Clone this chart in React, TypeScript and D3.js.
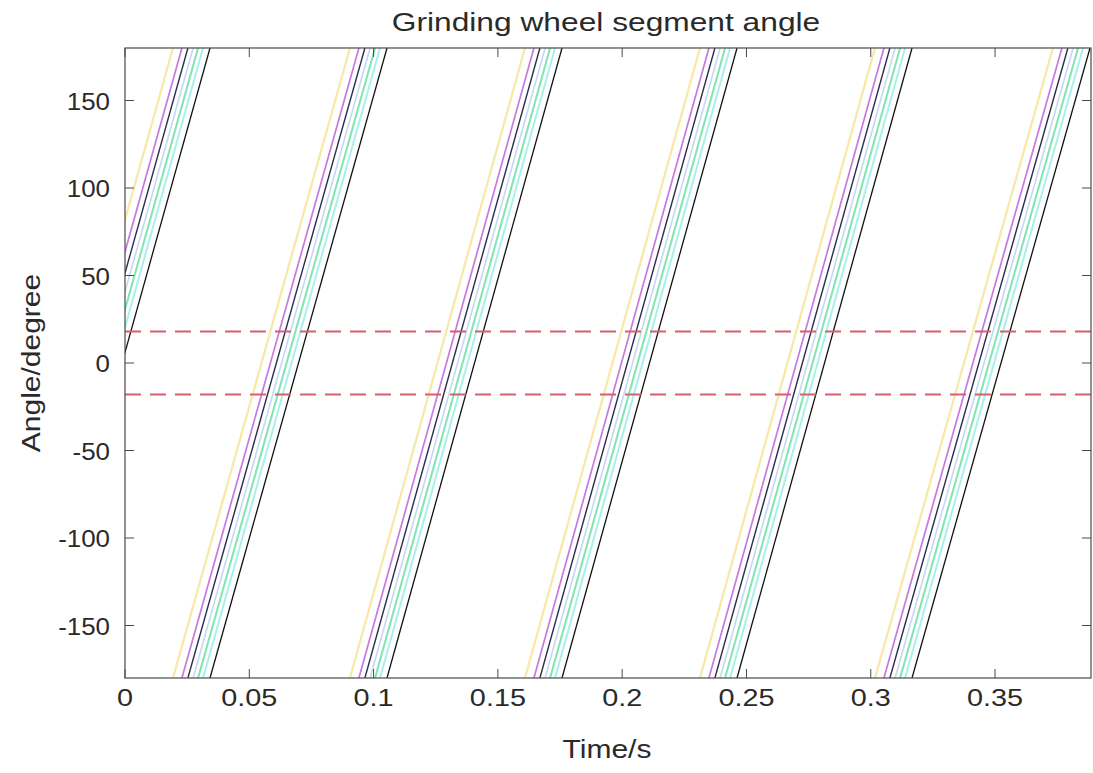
import React, { useEffect, useRef } from "react";
import * as d3 from "d3";

// times (s) at which the reference (black) segment reaches +180 deg
const wrapTimes = [-0.0366, 0.0342, 0.1054, 0.1758, 0.2462, 0.3166, 0.3882];

// the segments, leading the black one by these times (s)
const segmentColors = ["#f8e8a6", "#c978de", "#2b2b4e", "#c4d8f2", "#7fe6b2", "#a8f0ee", "#111111"];
const segmentLead = [0.0149, 0.0113, 0.0089, 0.0068, 0.0048, 0.0028, 0];
const segmentWidth = [2.2, 1.7, 1.4, 1.6, 2, 2, 1.3];

const limitAngles = [18, -18];
const xTicks = [0, 0.05, 0.1, 0.15, 0.2, 0.25, 0.3, 0.35];
const yTicks = [-150, -100, -50, 0, 50, 100, 150];

const App = () => {
  const svgRef = useRef(null);

  useEffect(() => {
    const svg = d3.select(svgRef.current);
    svg.selectAll("*").remove();

    const width = 1093;
    const height = 773;
    const left = 125;
    const right = 1091;
    const top = 48;
    const bottom = 678;
    const font = "'Liberation Sans', Arial, sans-serif";

    svg.attr("width", width).attr("height", height);

    const x = d3.scaleLinear().domain([0, 0.3886]).range([left, right]);
    const y = d3.scaleLinear().domain([-180, 180]).range([bottom, top]);

    svg
      .append("rect")
      .attr("width", width)
      .attr("height", height)
      .attr("fill", "#fff");

    svg
      .append("defs")
      .append("clipPath")
      .attr("id", "plot-clip")
      .append("rect")
      .attr("x", left)
      .attr("y", top)
      .attr("width", right - left)
      .attr("height", bottom - top);

    const plot = svg.append("g").attr("clip-path", "url(#plot-clip)");

    const line = d3
      .line()
      .x((d) => x(d[0]))
      .y((d) => y(d[1]));

    // each sweep goes from -180 at the previous wrap to +180 at the next one
    segmentColors.forEach((color, i) => {
      for (let k = 1; k < wrapTimes.length; k++) {
        const t0 = wrapTimes[k - 1] - segmentLead[i];
        const t1 = wrapTimes[k] - segmentLead[i];
        plot
          .append("path")
          .attr("d", line([[t0, -180], [t1, 180]]))
          .attr("fill", "none")
          .attr("stroke", color)
          .attr("stroke-width", segmentWidth[i]);
      }
    });

    // limits
    limitAngles.forEach((a) => {
      plot
        .append("line")
        .attr("x1", left)
        .attr("x2", right)
        .attr("y1", y(a))
        .attr("y2", y(a))
        .attr("stroke", "#d4606a")
        .attr("stroke-width", 2)
        .attr("stroke-dasharray", "16,9");
    });

    // box and ticks
    const axisColor = "#4a4a4a";
    svg
      .append("rect")
      .attr("x", left)
      .attr("y", top)
      .attr("width", right - left)
      .attr("height", bottom - top)
      .attr("fill", "none")
      .attr("stroke", axisColor)
      .attr("stroke-width", 1.2);

    const label = (tx, ty, txt, anchor, size, stretch, rot = 0) =>
      svg
        .append("text")
        .attr("transform", `translate(${tx},${ty}) rotate(${rot}) scale(${stretch},1)`)
        .attr("text-anchor", anchor)
        .attr("font-family", font)
        .attr("font-size", size)
        .attr("fill", "#2a2a2a")
        .text(txt);

    const tickLen = 9;
    xTicks.forEach((t) => {
      svg
        .append("line")
        .attr("x1", x(t))
        .attr("x2", x(t))
        .attr("y1", bottom)
        .attr("y2", bottom - tickLen)
        .attr("stroke", axisColor);
      svg
        .append("line")
        .attr("x1", x(t))
        .attr("x2", x(t))
        .attr("y1", top)
        .attr("y2", top + tickLen)
        .attr("stroke", axisColor);
      label(x(t), bottom + 28, String(t), "middle", 24, 1.2);
    });

    yTicks.forEach((v) => {
      svg
        .append("line")
        .attr("x1", left)
        .attr("x2", left + tickLen)
        .attr("y1", y(v))
        .attr("y2", y(v))
        .attr("stroke", axisColor);
      svg
        .append("line")
        .attr("x1", right)
        .attr("x2", right - tickLen)
        .attr("y1", y(v))
        .attr("y2", y(v))
        .attr("stroke", axisColor);
      label(left - 15, y(v) + 9, String(v), "end", 24, 1.08);
    });

    label((left + right) / 2 - 2, 31, "Grinding wheel segment angle", "middle", 26, 1.22);
    label((left + right) / 2 - 1, 758, "Time/s", "middle", 25, 1.2);
    label(40, (top + bottom) / 2, "Angle/degree", "middle", 25, 1.2, -90);
  }, []);

  return (
    <div style={{ position: "absolute", left: 0, top: 0 }}>
      <svg ref={svgRef} style={{ display: "block" }}></svg>
    </div>
  );
};

export default App;
